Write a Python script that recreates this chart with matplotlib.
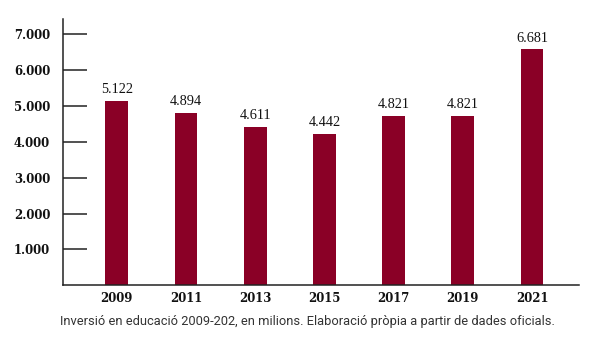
import matplotlib
matplotlib.use("Agg")
import matplotlib.pyplot as plt
import numpy as np

# ---------------- Data ----------------
years = ["2009", "2011", "2013", "2015", "2017", "2019", "2021"]
bar_heights = [5130, 4810, 4420, 4210, 4720, 4720, 6570]   # heights as drawn
value_labels = ["5.122", "4.894", "4.611", "4.442", "4.821", "4.821", "6.681"]
ytick_values = [1000, 2000, 3000, 4000, 5000, 6000, 7000]
ytick_labels = ["1.000", "2.000", "3.000", "4.000", "5.000", "6.000", "7.000"]
caption = "Inversió en educació 2009-202, en milions. Elaboració pròpia a partir de dades oficials."

# ---------------- Style ----------------
BAR_COLOR = "#8a0026"
AXIS_COLOR = "#222222"
W, H = 597, 337

fig = plt.figure(figsize=(W / 100, H / 100), dpi=100)
ax = fig.add_axes([63.3 / W, 1 - 285.3 / H, (579 - 63.3) / W, (285.3 - 19.3) / H])

x = np.arange(len(years))
ax.bar(x, bar_heights, width=0.33, color=BAR_COLOR, zorder=2)

for xi, h, lab in zip(x, bar_heights, value_labels):
    ax.annotate(lab, (xi, h), xytext=(0, 3.5), textcoords="offset points",
                ha="center", va="bottom", fontsize=10.3,
                family="Liberation Serif", color="#111111")

ax.set_xlim(-0.772, 6.68)
ax.set_ylim(0, 7410)

ax.set_xticks(x)
ax.set_xticklabels(years, family="DejaVu Serif", fontweight="bold",
                   fontsize=8.4, color="#111111")
ax.set_yticks(ytick_values)
ax.set_yticklabels(ytick_labels, family="DejaVu Serif", fontweight="bold",
                   fontsize=8.4, color="#111111")

ax.tick_params(axis="x", length=0, pad=5)
ax.tick_params(axis="y", direction="in", length=17.5, width=1.1,
               color=AXIS_COLOR, pad=9.5)

for s in ("top", "right"):
    ax.spines[s].set_visible(False)
for s in ("left", "bottom"):
    ax.spines[s].set_color(AXIS_COLOR)
    ax.spines[s].set_linewidth(1.1)

fig.text(307.5 / W, 1 - 322 / H, caption, ha="center", va="center",
         family="Roboto", fontsize=9.3, color="#333333")

fig.savefig("out.png", dpi=100)
